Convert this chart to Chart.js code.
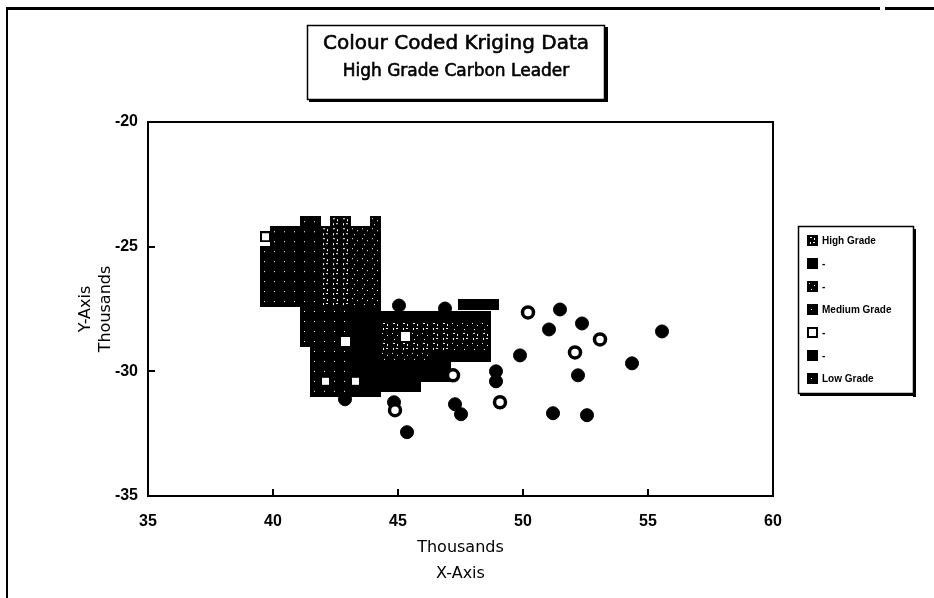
<!DOCTYPE html>
<html><head><meta charset="utf-8">
<script src="https://cdn.jsdelivr.net/npm/chart.js@4/dist/chart.umd.min.js"></script>
<style>html,body{margin:0;padding:0;background:#fff}canvas{display:block}</style>
</head><body>
<canvas id="c" width="934" height="598"></canvas>
<script>
// ---------- data (thousands) ----------
const titleText = 'Colour Coded Kriging Data';
const subtitleText = 'High Grade Carbon Leader';
const xTitle = ['Thousands', 'X-Axis'];
const yTitle = ['Y-Axis', 'Thousands'];
const xTicks = [35, 40, 45, 50, 55, 60];
const yTicks = [-20, -25, -30, -35];
const seriesLabels = ['High Grade', '-', '-', 'Medium Grade', '-', '-', 'Low Grade'];

// kriging grid cells, rows of [y, [x, ...]]
const highGradeRows = [
  [-24.0, [42.5, 42.9]],
  [-24.4, [42.1, 42.5, 42.9]],
  [-24.8, [42.1, 42.5, 42.9]],
  [-25.2, [42.1, 42.5, 42.9]],
  [-25.6, [42.1, 42.5, 42.9]],
  [-26.0, [42.1, 42.5, 42.9]],
  [-26.4, [42.1, 42.5, 42.9]],
  [-26.8, [42.1, 42.5, 42.9]],
  [-27.2, [42.1, 42.5, 42.9]],
  [-28.2, [44.5, 44.9, 45.3, 45.7, 46.1, 46.5, 46.9]],
  [-28.6, [46.5, 46.9, 47.3, 47.7, 48.1, 48.5]],
  [-29.0, [44.5, 44.9, 45.3, 45.7, 46.1, 46.5, 46.9]]
];
const series2Rows = [
  [-27.3, [47.6, 48.0, 48.4, 48.8]],
  [-27.6, [43.3, 43.7, 44.1]],
  [-27.8, [44.5, 44.9, 45.3, 45.7, 46.1, 46.5, 46.9, 47.3, 47.7, 48.1, 48.5]],
  [-28.0, [43.3, 43.7, 44.1]],
  [-28.4, [43.3, 43.7, 44.1]],
  [-28.8, [43.3, 43.7, 44.1]],
  [-29.2, [43.3, 43.7, 44.1]],
  [-29.4, [46.5, 46.9, 47.3, 47.7, 48.1, 48.5]],
  [-29.6, [43.3, 43.7, 44.1]],
  [-30.0, [43.3, 43.7, 44.1]],
  [-30.4, [43.7, 44.1]],
  [-30.8, [43.3, 43.7, 44.1]]
];
const series3Rows = [
  [-24.0, [44.1]],
  [-24.4, [43.3, 43.7, 44.1]],
  [-24.8, [43.3, 43.7, 44.1]],
  [-25.2, [43.3, 43.7, 44.1]],
  [-25.6, [43.3, 43.7, 44.1]],
  [-26.0, [43.3, 43.7, 44.1]],
  [-26.4, [43.3, 43.7, 44.1]],
  [-26.8, [43.3, 43.7, 44.1]],
  [-27.2, [43.3, 43.7, 44.1]],
  [-28.2, [47.3, 47.7, 48.1, 48.5]],
  [-28.6, [44.5, 44.9, 45.7, 46.1]],
  [-29.0, [47.3, 47.7, 48.1, 48.5]],
  [-29.4, [44.5, 44.9, 45.3, 45.7, 46.1]]
];
const mediumGradeRows = [
  [-24.0, [41.3, 41.7]],
  [-27.6, [41.3, 41.7, 42.1, 42.5, 42.9]],
  [-28.0, [41.3, 41.7, 42.1, 42.5, 42.9]],
  [-28.4, [41.3, 41.7, 42.1, 42.5, 42.9]],
  [-28.8, [41.3, 41.7, 42.1, 42.5]],
  [-29.2, [41.7, 42.1, 42.5, 42.9]],
  [-29.6, [41.7, 42.1, 42.5, 42.9]],
  [-30.0, [41.7, 42.1, 42.5, 42.9]],
  [-30.4, [41.7, 42.5, 42.9]],
  [-30.8, [41.7, 42.1, 42.5, 42.9]]
];
const series5Squares = [[39.7, -24.6], [42.1, -30.4], [43.3, -30.4]];
const series5Circles = [
  [50.2, -27.64], [53.08, -28.72], [52.08, -29.24],
  [47.2, -30.16], [49.08, -31.24], [44.88, -31.56]
];
const series6Rows = [
  [-29.8, [44.5, 44.9, 45.3, 45.7, 46.1, 46.5, 46.9]],
  [-30.2, [44.5, 44.9, 45.3, 45.7, 46.1, 46.5, 46.9]],
  [-30.6, [44.5, 44.9, 45.3, 45.7]]
];
const series6Circles = [
  [45.04, -27.36], [46.88, -27.48], [51.48, -27.52], [51.04, -28.32],
  [52.36, -28.08], [55.56, -28.4], [49.88, -29.36], [54.36, -29.68],
  [52.2, -30.16], [48.92, -30.0], [48.92, -30.4], [47.28, -31.32],
  [47.52, -31.72], [51.2, -31.68], [52.56, -31.76], [42.88, -31.12],
  [44.84, -31.24], [45.36, -32.44]
];
const lowGradeRows = [
  [-24.4, [40.1, 40.5, 40.9, 41.3, 41.7]],
  [-24.8, [40.1, 40.5, 40.9, 41.3, 41.7]],
  [-25.2, [39.7, 40.1, 40.5, 40.9, 41.3, 41.7]],
  [-25.6, [39.7, 40.1, 40.5, 40.9, 41.3, 41.7]],
  [-26.0, [39.7, 40.1, 40.5, 40.9, 41.3, 41.7]],
  [-26.4, [39.7, 40.1, 40.5, 40.9, 41.3, 41.7]],
  [-26.8, [39.7, 40.1, 40.5, 40.9, 41.3, 41.7]],
  [-27.2, [39.7, 40.1, 40.5, 40.9, 41.3, 41.7]]
];

// ---------- helpers ----------
function rowsToPoints(rows) {
  const out = [];
  rows.forEach(([yv, xs]) => xs.forEach(xv => out.push({x: xv, y: yv})));
  return out;
}
function pairsToPoints(pairs) { return pairs.map(([xv, yv]) => ({x: xv, y: yv})); }

function marker(kind) {
  const c = document.createElement('canvas');
  c.width = 11; c.height = 11;
  const g = c.getContext('2d');
  g.fillStyle = '#000';
  g.fillRect(0, 0, 11, 11);
  g.fillStyle = '#fff';
  if (kind === 'hollow') { g.fillRect(2, 2, 7, 7); }
  if (kind === 'grid') {
    g.fillRect(3, 2, 2, 1); g.fillRect(7, 3, 1, 2);
    g.fillRect(3, 7, 1, 2); g.fillRect(6, 7, 2, 1);
  }
  if (kind === 'dots') {
    [[2, 2], [7, 4], [4, 8]].forEach(([a, b]) => g.fillRect(a, b, 1, 1));
  }
  if (kind === 'stipple') {
    [[4, 5]].forEach(([a, b]) => g.fillRect(a, b, 1, 1));
  }
  return c;
}
const markers = {
  grid: marker('grid'), solid: marker('solid'), dots: marker('dots'),
  stipple: marker('stipple'), hollow: marker('hollow')
};
const legendMarkers = [markers.grid, markers.solid, markers.dots, markers.stipple,
                       markers.hollow, markers.solid, markers.stipple];

function squareSet(label, data, img, order) {
  return {label, data, pointStyle: img, pointRadius: 5, pointHoverRadius: 5,
          backgroundColor: '#000', borderColor: '#000', showLine: false, order};
}

const datasets = [
  squareSet(seriesLabels[0], rowsToPoints(highGradeRows), markers.grid, 5),
  squareSet(seriesLabels[1], rowsToPoints(series2Rows), markers.solid, 5),
  squareSet(seriesLabels[2], rowsToPoints(series3Rows), markers.dots, 5),
  squareSet(seriesLabels[3], rowsToPoints(mediumGradeRows), markers.stipple, 5),
  squareSet(seriesLabels[4], pairsToPoints(series5Squares), markers.hollow, 2),
  squareSet(seriesLabels[5], rowsToPoints(series6Rows), markers.solid, 5),
  squareSet(seriesLabels[6], rowsToPoints(lowGradeRows), markers.stipple, 5),
  {label: seriesLabels[4], data: pairsToPoints(series5Circles), pointStyle: 'circle',
   pointRadius: 5.5, borderWidth: 3.5, backgroundColor: '#fff', borderColor: '#000', order: 0},
  {label: seriesLabels[5], data: pairsToPoints(series6Circles), pointStyle: 'circle',
   pointRadius: 6.5, borderWidth: 1, backgroundColor: '#000', borderColor: '#000', order: 1}
];

const decor = {
  id: 'decor',
  beforeDraw(chart) {
    const ctx = chart.ctx;
    ctx.save();
    ctx.fillStyle = '#fff';
    ctx.fillRect(0, 0, chart.width, chart.height);
    ctx.fillStyle = '#000';
    ctx.fillRect(6, 7, 874, 3);
    ctx.fillRect(885, 7, 49, 3);
    ctx.fillRect(6, 7, 2, 591);
    ctx.restore();
  },
  afterDraw(chart) {
    const {ctx, chartArea: a, scales: {x, y}} = chart;
    ctx.save();
    ctx.fillStyle = '#000';
    // top & right frame
    ctx.fillRect(a.left - 1, a.top - 1, a.right - a.left + 2, 2);
    ctx.fillRect(a.right - 1, a.top - 1, 2, a.bottom - a.top + 2);
    // inward ticks
    yTicks.forEach(v => { const py = Math.round(y.getPixelForValue(v)); ctx.fillRect(a.left, py - 1, 7, 2); });
    xTicks.forEach(v => { const px = Math.round(x.getPixelForValue(v)); ctx.fillRect(px - 1, a.bottom - 7, 2, 7); });

    // title box
    ctx.lineWidth = 1.5;
    ctx.strokeStyle = '#000';
    ctx.strokeRect(307.5, 25.5, 297, 74);
    ctx.fillRect(309, 99, 299, 3);
    ctx.fillRect(605, 27, 3, 75);
    ctx.textAlign = 'center';
    ctx.textBaseline = 'middle';
    ctx.lineWidth = 0.6;
    ctx.font = '20px "DejaVu Sans", sans-serif';
    ctx.fillText(titleText, 456, 44);
    ctx.strokeText(titleText, 456, 44);
    ctx.font = '17px "DejaVu Sans", sans-serif';
    ctx.fillText(subtitleText, 456, 72);
    ctx.strokeText(subtitleText, 456, 72);

    // legend
    ctx.lineWidth = 1.5;
    ctx.strokeRect(798.5, 226.5, 115, 167);
    ctx.fillRect(913, 229, 3, 168);
    ctx.fillRect(800, 393, 116, 3);
    ctx.textAlign = 'left';
    ctx.font = 'bold 10px "Liberation Sans", Arial, sans-serif';
    seriesLabels.forEach((lab, i) => {
      const cy = 240 + i * 23;
      ctx.drawImage(legendMarkers[i], 807, cy - 5);
      ctx.fillText(lab, 822, cy + 1);
    });
    ctx.restore();
  }
};

new Chart(document.getElementById('c'), {
  type: 'scatter',
  data: {datasets},
  plugins: [decor],
  options: {
    responsive: false,
    animation: false,
    events: [],
    layout: {padding: {top: 122, right: 161, bottom: 0, left: 0}},
    plugins: {legend: {display: false}, tooltip: {enabled: false}, title: {display: false}},
    scales: {
      x: {
        type: 'linear', min: 35, max: 60,
        afterBuildTicks: s => { s.ticks = xTicks.map(v => ({value: v})); },
        afterFit: s => { s.height = 102; },
        grid: {display: false, drawTicks: false},
        border: {display: true, color: '#000', width: 2},
        ticks: {color: '#000', padding: 16, font: {family: '"Liberation Sans", Arial, sans-serif', size: 16, weight: 'bold'}},
        title: {display: true, text: xTitle, color: '#000',
                font: {family: '"DejaVu Sans", sans-serif', size: 16, lineHeight: 1.625},
                padding: {top: 0, bottom: 11}}
      },
      y: {
        type: 'linear', min: -35, max: -20,
        afterBuildTicks: s => { s.ticks = yTicks.map(v => ({value: v})); },
        afterFit: s => { s.width = 148; },
        grid: {display: false, drawTicks: false},
        border: {display: true, color: '#000', width: 2},
        ticks: {color: '#000', padding: 10, font: {family: '"Liberation Sans", Arial, sans-serif', size: 16, weight: 'bold'}},
        title: {display: true, text: yTitle, color: '#000',
                font: {family: '"DejaVu Sans", sans-serif', size: 16, lineHeight: 1.3},
                padding: {top: 75, bottom: 0}}
      }
    }
  }
});
</script>
</body></html>
